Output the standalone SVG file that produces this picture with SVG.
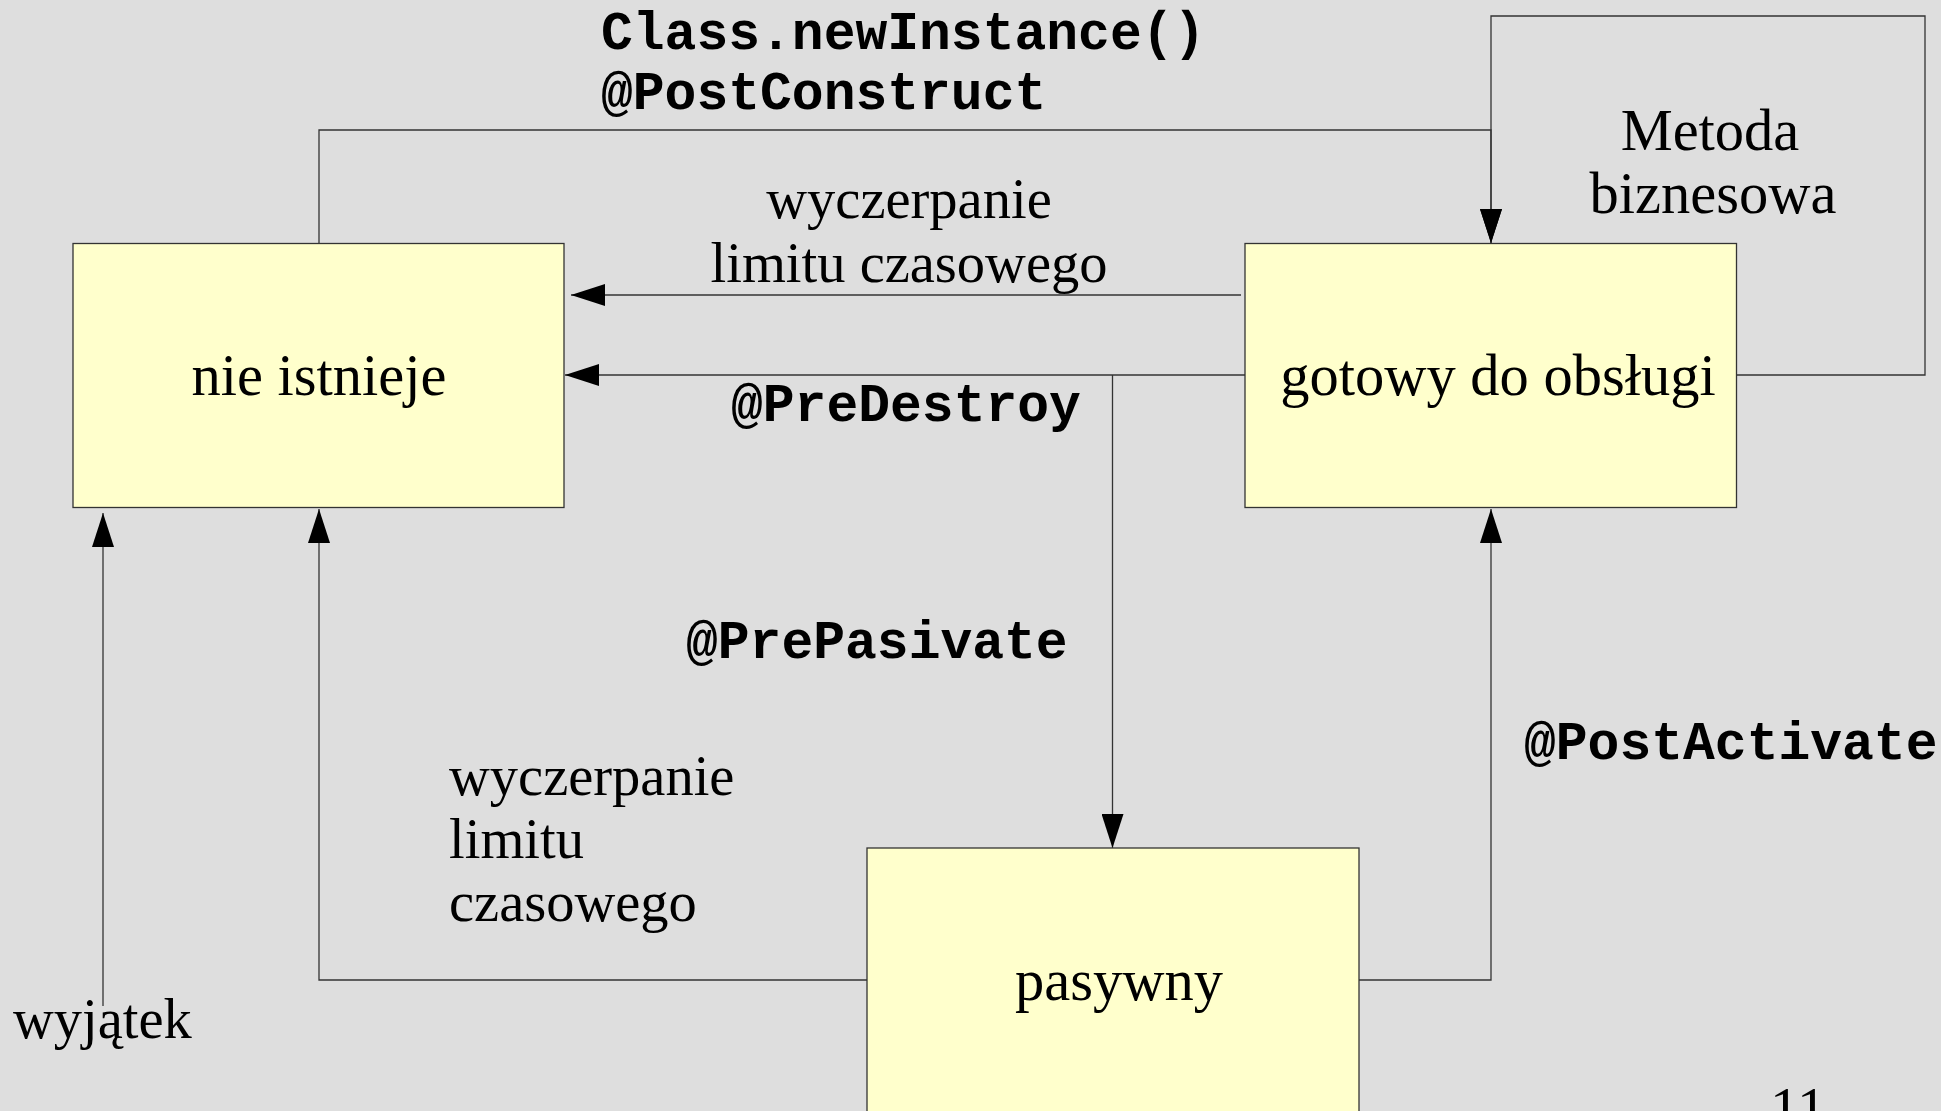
<svg xmlns="http://www.w3.org/2000/svg" width="1941" height="1111" viewBox="0 0 1941 1111">
<style>
.node rect{fill:#ffffcc;stroke:#333333;stroke-width:1.3}
.lbl{font-family:"Liberation Serif","Times New Roman",serif;font-size:58.5px;fill:#000}
.elbl{font-family:"Liberation Serif","Times New Roman",serif;font-size:56.5px;fill:#000}
.code{font-family:"Liberation Mono","Courier New",monospace;font-weight:bold;font-size:53px;fill:#000}
#connectors path{fill:none;stroke:#333333;stroke-width:1.3}
</style>
<defs>
<marker id="arr" markerUnits="userSpaceOnUse" markerWidth="34" markerHeight="22" viewBox="0 0 34 22" refX="34" refY="11" orient="auto">
<path d="M0,0 L34,11 L0,22 z" fill="#000"/>
</marker>
</defs>
<rect x="0" y="0" width="1941" height="1111" fill="#dedede"/>
<g id="connectors">
<path d="M319,243 V130 H1491 V243" marker-end="url(#arr)"/>
<path d="M1737,375 H1925 V16 H1491 V243" marker-end="url(#arr)"/>
<path d="M1241,295 H571" marker-end="url(#arr)"/>
<path d="M1245,375 H565" marker-end="url(#arr)"/>
<path d="M1112.5,375 V848" marker-end="url(#arr)"/>
<path d="M1359,980 H1491 V509" marker-end="url(#arr)"/>
<path d="M867,980 H319 V509" marker-end="url(#arr)"/>
<path d="M103,1006 V513" marker-end="url(#arr)"/>
</g>
<g id="node-nie-istnieje" class="node">
<rect x="73" y="243.5" width="491" height="264"/>
<text class="lbl" x="319" y="395" text-anchor="middle">nie istnieje</text>
</g>
<g id="node-gotowy" class="node">
<rect x="1245" y="243.5" width="491.5" height="264"/>
<text class="lbl" x="1498" y="395" text-anchor="middle">gotowy do obsługi</text>
</g>
<g id="node-pasywny" class="node">
<rect x="867" y="848" width="492" height="300"/>
<text class="lbl" x="1119" y="1000" text-anchor="middle">pasywny</text>
</g>
<g id="labels">
<text class="code" x="601" y="49">Class.newInstance()</text>
<text class="code" x="601" y="109">@PostConstruct</text>
<text class="elbl" x="909" y="218" text-anchor="middle">wyczerpanie</text>
<text class="elbl" x="909" y="282" text-anchor="middle">limitu czasowego</text>
<text class="code" x="731" y="421">@PreDestroy</text>
<text class="lbl" x="1710" y="150" text-anchor="middle">Metoda</text>
<text class="lbl" x="1713" y="213" text-anchor="middle">biznesowa</text>
<text class="code" x="686" y="658">@PrePasivate</text>
<text class="code" x="1524" y="759">@PostActivate</text>
<text class="elbl" x="449" y="795">wyczerpanie</text>
<text class="elbl" x="449" y="858">limitu</text>
<text class="elbl" x="449" y="921">czasowego</text>
<text class="elbl" x="13" y="1038">wyjątek</text>
<text class="lbl" x="1770" y="1128">11</text>
</g>
</svg>
